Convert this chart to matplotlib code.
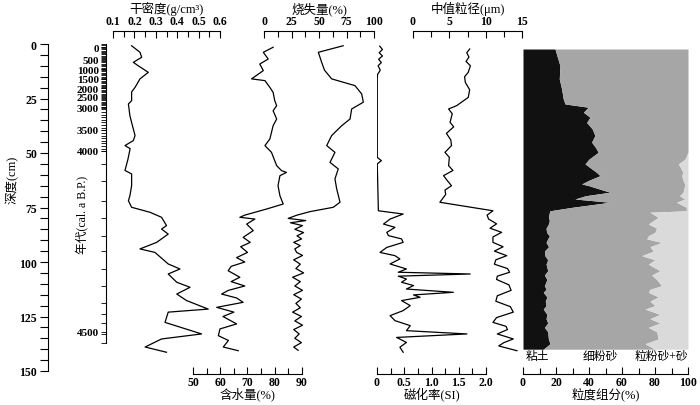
import numpy as np
import matplotlib
matplotlib.use('Agg')
import matplotlib.pyplot as plt

plt.rcParams['font.family'] = ['Liberation Serif', 'Noto Sans CJK SC']
plt.rcParams['font.weight'] = 'bold'

# ---- data (depth in cm) ----
dens_depth = [0.8, 3.8, 6.1, 8.4, 10, 13, 16, 19.9, 22, 26, 27.5, 32.9, 36, 39, 42, 44.3, 46.6, 48,
              52.8, 58, 59.6, 65, 69.6, 71.9, 74.9, 77.2, 79.5, 83.3, 84.9, 87.2, 91, 94, 95.6,
              100.9, 103.2, 105.5, 109.3, 111.6, 114.7, 117.7, 121.6, 123, 127.7, 133, 135.3, 139, 141.4]
dens = [0.187, 0.226, 0.234, 0.195, 0.218, 0.265, 0.226, 0.203, 0.187, 0.187, 0.172, 0.179, 0.187,
        0.195, 0.203, 0.195, 0.156, 0.18, 0.17, 0.156, 0.187, 0.187, 0.179, 0.172, 0.187, 0.273,
        0.327, 0.35, 0.327, 0.358, 0.304, 0.226, 0.296, 0.358, 0.413, 0.358, 0.398, 0.46, 0.398,
        0.444, 0.545, 0.358, 0.343, 0.514, 0.327, 0.25, 0.35]

wc_depth = [1.5, 3.8, 6.9, 9.2, 12.2, 16, 16.8, 19.9, 22.2, 26, 28.3, 30.6, 34.4, 37.5, 43.6, 46.6,
            49.7, 55.8, 58.1, 58.9, 60.4, 65, 69.6, 73.4, 75.7, 78.5, 79.5, 80.3, 82.6, 85.6, 88.7,
            91, 93, 95.6, 98, 100, 102, 104, 107, 109, 111, 113, 114.7, 116.5, 118.5, 120.8, 123,
            125, 128.4, 130.7, 133.8, 136, 139, 140.7]
wc = [79.4, 75.8, 77.6, 74.5, 75.8, 71.5, 76.4, 78.2, 79.4, 80, 80.7, 79.4, 80.7, 79.4, 78.2, 76.4,
      78.8, 80.7, 82.5, 84.3, 81.9, 81.2, 81.9, 83.1, 77, 69, 67.2, 72.7, 69.7, 72.1, 68.4,
      71, 67.5, 70, 66, 69, 64, 62.9, 67.2, 64, 69, 63, 60.5, 66, 68.4, 58.7, 65, 61,
      66, 59.9, 59.3, 63, 61.1, 66.6]

loi_depth = [0.8, 3.8, 8.4, 12, 16, 19.1, 22.9, 26.7, 29.8, 34.4, 37.5, 42, 46.6, 49.7, 54.3, 57.3,
             61.9, 66.5, 72.6, 74.9, 76.9, 78.5, 80, 81, 82, 83.3, 85, 86.5, 88, 89.4, 91, 92.5,
             94, 95.6, 97, 99, 101, 103, 105, 107, 109, 111, 113, 115, 117, 119, 121, 123, 125,
             127, 129, 131, 133, 135, 137, 139, 140.5]
loi = [72, 49.4, 52.4, 55, 61.5, 82.7, 88.8, 90.3, 79.7, 78.2, 70.6, 61.5, 57, 64.5, 60, 67.5,
       64.5, 66.1, 69.1, 63, 41.8, 30, 22, 38, 24, 35, 28, 36, 30, 34.2, 27, 33, 28, 29.7, 35, 27,
       33, 29, 36, 26, 33, 28, 35, 27, 34, 29, 33, 26, 34, 28, 35, 27, 32, 28, 34, 27, 31]

ms_depth = [1, 2.5, 4, 5.5, 7, 8.5, 10, 12, 14, 16, 20, 52, 53.5, 55, 76.5, 78.0, 80.3, 82.6,
            84.1, 86.4, 87.9, 89.4, 91.0, 93.3, 95.6, 97.1, 98.6, 100.9, 103.2, 104.7, 105.5,
            106.5, 107.8, 109.3, 110.8, 112.4, 113.9, 115.1, 116.2, 117.7, 120.0, 122.3, 124.6,
            126.9, 129.2, 131.5, 133.0, 134.6, 136.9, 139.1, 141.4]
ms = [0.05, 0.1, 0.04, 0.1, 0.03, 0.08, 0.02, 0.06, 0.01, 0.005, 0.005, 0.005, 0.08, 0.005,
      0.025, 0.48, 0.24, 0.12, 0.33, 0.18, 0.21, 0.45, 0.48, 0.18, 0.055, 0.33, 0.42, 0.24,
      0.54, 0.39, 1.71, 0.39, 0.54, 0.45, 0.67, 0.54, 1.4, 0.67, 0.79, 0.45, 0.61, 0.48, 0.24,
      0.33, 0.61, 0.54, 1.65, 0.36, 0.54, 0.42, 0.48]

mg_depth = [2.3, 4, 6, 8, 10, 13, 15, 17.6, 21, 24.5, 28.3, 29.8, 32, 35.9, 38, 41, 44, 46.6,
            49.7, 52, 55.8, 58, 60.4, 63, 65, 67, 69, 72.6, 76.5, 78.5, 80.3, 82.5, 84.5, 86.4,
            88.5, 91, 93, 95, 97.1, 99, 101, 103, 104.7, 106.5, 108, 110.5, 113, 115.5, 118,
            120.5, 123, 125.5, 127.7, 129.5, 131, 133, 135.3, 137, 138.5, 140.7]
mg = [7.8, 7.4, 7.7, 7.3, 7.9, 7.6, 7.1, 7.2, 7.8, 7.6, 6.0, 4.9, 5.4, 5.1, 5.6, 4.6, 5.2, 5.3,
      4.4, 5.0, 4.9, 5.5, 4.2, 4.8, 5.3, 4.4, 4.5, 3.7, 11, 10.2, 10.4, 11.5, 10.6, 12.2, 11.0,
      11, 12.4, 11.2, 12.9, 11.4, 11.2, 13.0, 13.3, 11.6, 11.5, 13.2, 13.5, 11.6, 11.4, 13.4,
      13.8, 11.5, 11, 12.8, 13, 11.6, 13.8, 12.5, 11.8, 14.3]

gs_depth = [2.3, 4.9, 9.9, 16, 20.6, 25.2, 27.5, 29, 31.3, 33.6, 36, 39, 42, 45, 47.5, 49.7, 52.8,
            55, 58.9, 60.4, 62.5, 64.2, 65, 68, 69.6, 71.1, 72.6, 74.9, 76.5, 77.2, 79.5, 81,
            82.6, 84.5, 86.4, 88, 89.4, 91, 93, 95, 97.1, 99, 101, 104, 106, 108, 110.9, 112.5,
            113.9, 116, 118, 120, 121.6, 124, 126, 128, 130, 132, 135.3, 137.5, 140]
clay = [19.4, 20.4, 22.4, 22, 23.4, 24.4, 25.5, 39.6, 36.6, 40.6, 38.6, 42, 43.6, 41.6, 44, 45.6,
        40, 37.6, 44.6, 46.7, 40, 35.6, 40, 52.7, 38, 31.5, 52.7, 30, 16.4, 16, 15.5, 16, 15.4,
        14, 14.3, 16, 15, 14, 15.5, 13, 13.3, 15, 14, 15, 13, 14.5, 13, 14, 12.3, 14.5, 13.5,
        14, 12.3, 14.5, 14, 15, 13, 15, 15.4, 16.4, 12.3]
clay_fine = [100, 100, 100, 100, 100, 100, 100, 100, 100, 100, 100, 100, 100, 100, 100, 100, 98.2,
             94.2, 97, 96.2, 97, 98, 98, 97, 95, 98, 93.1, 99, 99, 77, 82, 79, 76, 81, 80, 76, 75,
             84, 77, 79, 72, 80, 76, 83, 78, 81, 84, 77, 76, 82, 77, 80, 74, 83, 77, 83, 76, 81,
             82, 74, 80]

age_labels = ['0', '500', '1000', '1500', '2000', '2500', '3000', '3500', '4000', '4500']
age_depth = [1.4, 6.9, 11.5, 16, 20.2, 24.3, 28.9, 39.4, 49, 132]

W, H = 700, 406
TOP, BOT = 45, 372
fig = plt.figure(figsize=(7, 4.06), dpi=100)


def px_axes(x0, x1):
    ax = fig.add_axes([x0 / W, 1 - BOT / H, (x1 - x0) / W, (BOT - TOP) / H])
    ax.set_ylim(150, 0)
    ax.patch.set_visible(False)
    for s in ax.spines.values():
        s.set_visible(False)
    ax.set_yticks([])
    ax.tick_params(axis='x', which='both', bottom=False, top=False,
                   labelbottom=False, labeltop=False)
    return ax


def x_scale(ax, side, lims, major, minor, labels, title):
    ax.set_xlim(*lims)
    ax.spines[side].set_visible(True)
    ax.spines[side].set_linewidth(0.8)
    ax.spines[side].set_position(('outward', 9.6 if side == 'top' else 2.2))
    ax.set_xticks(major, labels)
    ax.set_xticks(minor, minor=True)
    ax.xaxis.set_ticks_position(side)
    ax.xaxis.set_label_position(side)
    kw = dict(direction='in', width=0.8, labelsize=8.5)
    if side == 'top':
        ax.tick_params(axis='x', which='both', top=True, labeltop=True, pad=2.5, **kw)
        pad = 2
    else:
        ax.tick_params(axis='x', which='both', bottom=True, labelbottom=True, pad=1.5, **kw)
        pad = -1
    ax.tick_params(axis='x', which='major', length=5)
    ax.tick_params(axis='x', which='minor', length=4)
    ax.set_xlabel(title, fontsize=9, fontweight='normal', labelpad=pad)


# depth axis
ax_d = px_axes(48, 49)
ax_d.spines['left'].set_visible(True)
ax_d.spines['left'].set_linewidth(0.8)
ax_d.set_yticks(np.arange(0, 151, 25))
ax_d.set_yticks(np.arange(0, 151, 5), minor=True)
ax_d.tick_params(axis='y', which='both', direction='out', length=6, width=0.8, labelsize=8.5, pad=2)
fig.text(12 / W, 1 - 180 / H, '深度(cm)', rotation=90, ha='center', va='center',
         fontsize=9, fontweight='normal')

# age axis
ax_a = px_axes(106, 107)
ax_a.spines['left'].set_visible(True)
ax_a.spines['left'].set_linewidth(0.8)
ax_a.spines['left'].set_bounds(0, 137)
ax_a.set_yticks(age_depth, age_labels)
age_minor = np.concatenate([np.arange(0, 30, 0.6), np.arange(30, 50, 1.2),
                            [55, 63, 72, 80, 88, 95, 103, 111, 119, 124, 128, 133, 137]])
ax_a.set_yticks(age_minor, minor=True)
ax_a.tick_params(axis='y', which='both', direction='out', length=3.5, width=0.6, labelsize=8, pad=1.5)
fig.text(83 / W, 1 - 215 / H, '年代(cal. a B.P.)', rotation=90, ha='center', va='center',
         fontsize=8.5, fontweight='normal')

lw = 0.9
# dry density
ax1 = px_axes(113, 220)
ax1.plot(dens, dens_depth, color='k', lw=lw)
x_scale(ax1, 'top', (0.1, 0.6), np.arange(0.1, 0.61, 0.1),
        np.arange(0.15, 0.6, 0.1), ['0.1', '0.2', '0.3', '0.4', '0.5', '0.6'], '干密度(g/cm³)')

# water content
ax2 = px_axes(193, 302)
ax2.plot(wc, wc_depth, color='k', lw=lw)
x_scale(ax2, 'bottom', (50, 90), [50, 60, 70, 80, 90], [55, 65, 75, 85],
        ['50', '60', '70', '80', '90'], '含水量(%)')

# loss on ignition
ax3 = px_axes(264, 374)
ax3.plot(loi, loi_depth, color='k', lw=lw)
x_scale(ax3, 'top', (0, 100), [0, 25, 50, 75, 100], [12.5, 37.5, 62.5, 87.5],
        ['0', '25', '50', '75', '100'], '烧失量(%)')

# magnetic susceptibility
ax4 = px_axes(377, 486)
ax4.plot(ms, ms_depth, color='k', lw=lw)
x_scale(ax4, 'bottom', (0, 2), [0, 0.5, 1, 1.5, 2], [0.25, 0.75, 1.25, 1.75],
        ['0', '0.5', '1.0', '1.5', '2.0'], '磁化率(SI)')

# median grain size
ax5 = px_axes(413, 522)
ax5.plot(mg, mg_depth, color='k', lw=lw)
x_scale(ax5, 'top', (0, 15), [0, 5, 10, 15], [2.5, 7.5, 12.5],
        ['0', '5', '10', '15'], '中值粒径(μm)')

# grain size composition
ax6 = px_axes(523, 688)
ax6.fill_betweenx(gs_depth, 0, clay, color='#111111', lw=0)
ax6.fill_betweenx(gs_depth, clay, clay_fine, color='#a6a6a6', lw=0)
ax6.fill_betweenx(gs_depth, clay_fine, 100, color='#dadada', lw=0)
x_scale(ax6, 'bottom', (0, 100), [0, 20, 40, 60, 80, 100], [10, 30, 50, 70, 90],
        ['0', '20', '40', '60', '80', '100'], '粒度组分(%)')
for txt, xv in [('粘土', 9), ('细粉砂', 47), ('粒粉砂+砂', 84)]:
    ax6.text(xv, 143, txt, ha='center', va='center', fontsize=8.5, fontweight='normal')

fig.savefig('out.png', dpi=100)
